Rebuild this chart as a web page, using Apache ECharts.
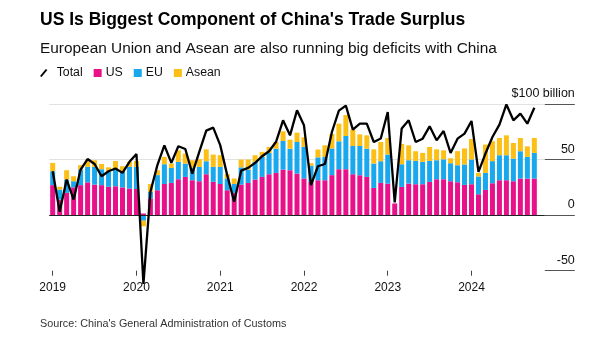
<!DOCTYPE html>
<html><head><meta charset="utf-8">
<script src="https://cdn.jsdelivr.net/npm/echarts@6/dist/echarts.min.js"></script>
<style>html,body{margin:0;padding:0;background:#fff}#c{width:609px;height:347px}</style>
</head><body><div id="c"></div>
<script>
// Monthly, Jan 2019 – Oct 2024 ($ billion)
const years = ['2019','2020','2021','2022','2023','2024'];
const monthsOnAxis = 71; // axis runs to Nov 2024
const us = [
  27,14,20,25,27,29.5,27.5,27,25.5,26,25,24,
  23.5,1.5,15,22.4,28,29,32.3,34.4,31.4,30.5,36.8,30,
  28,22.4,20,27.5,29,32,34.4,36.8,38,41,40.4,37.4,
  33,30,31.4,31.4,36,41.3,41.3,36.8,35.9,34.4,24.5,29,
  28.4,10.5,25.4,28.4,27.8,27.8,29.9,32.3,32.3,30.5,29.6,27.2,
  27.8,18.8,22.7,28.7,31.4,31.4,30.5,32.9,32.9,32.9
];
const eu = [
  12.5,9,12,5.5,14,13.9,15.9,14.3,13.7,15.5,14,19.6,
  19.9,-5,6,13.6,17.8,13.5,15.6,12,11.1,12.9,11.7,13.4,
  15.4,10.6,8,15.5,12,15.9,18,19.2,21.8,25.7,19.4,28.4,
  28.5,14.5,20.6,21,24,25.1,29.9,25.4,26.3,25.4,21.9,19.5,
  26.1,0,20.4,21,21,20.1,18.9,17.1,17.9,16.2,15.3,18.4,
  22.3,16,15.3,19.9,22.5,22.5,20.4,24.6,19.5,23.1
];
const asean = [
  7.5,2.5,8.4,4.5,4,6.6,6,4.7,3.8,7.2,5,4.4,
  5.3,-5,7,4.4,6.6,3.9,10.4,9,6.9,6.9,10.7,11.1,
  10.5,4,5,7,9,6,4.5,5.3,6,8.7,8.1,8.4,
  8.5,2.2,7,10.4,13,15.9,18.8,14.8,10.5,12,12.8,17.3,
  14.9,0,18.2,13.4,8.7,8.1,12.5,9.8,8.1,4.5,12.7,14.4,
  18.4,3.2,25.5,17.9,15.5,17.9,14,11.9,9.5,13.4
];
const total = [
  39.5,3,32,14,41,50.5,46,35,39.5,42,38,48,
  55,-62,21,45,62.8,47,62,59.5,37.4,57,76,78.7,
  63,36,12,40,42.5,47,53,57.5,66,85.3,71.8,94.3,
  80.8,27,44,46,74.8,94,98.5,77,82.3,82.3,65.8,69,
  92.8,11.5,78,85.3,65.8,68.8,79.9,67.3,75.7,56,68.8,73.3,
  84.7,38.9,55.4,70.3,81.4,99.6,85.3,91.3,82.3,96.6
];
const yTicks = [-50, 0, 50, 100];

const categories = [];
years.forEach(y => { for (let m = 1; m <= 12; m++) categories.push(y + '-' + (m < 10 ? '0' + m : m)); });
const cats = categories.slice(0, monthsOnAxis);

const FONT = "'Liberation Sans', Arial, sans-serif";
const chart = echarts.init(document.getElementById('c'), null, {renderer: 'canvas'});
const isJan = (i) => i % 12 === 0;

chart.setOption({
  animation: false,
  backgroundColor: '#fff',
  textStyle: {fontFamily: FONT},
  title: [
    {text: "US Is Biggest Component of China's Trade Surplus", left: 40, top: 11, padding: 0,
     textStyle: {fontFamily: FONT, fontSize: 17.5, fontWeight: 'bold', color: '#000'}},
    {text: 'European Union and Asean are also running big deficits with China', left: 40, top: 41, padding: 0,
     textStyle: {fontFamily: FONT, fontSize: 15.4, fontWeight: 'normal', color: '#111'}},
    {text: "Source: China's General Administration of Customs", left: 40, top: 319, padding: 0,
     textStyle: {fontFamily: FONT, fontSize: 10.8, fontWeight: 'normal', color: '#333'}}
  ],
  legend: {
    left: 40, top: 67, padding: 0, itemGap: 11, itemWidth: 8, itemHeight: 8,
    selectedMode: false,
    textStyle: {fontFamily: FONT, fontSize: 12.3, color: '#111', padding: [0, 0, 0, -1]},
    data: [
      {name: 'Total', icon: 'path://M0,9 L7.5,0 L9.5,1.3 L2,10.3 Z', itemStyle: {color: '#000'},
       textStyle: {padding: [0, 0, 0, 4]}},
      {name: 'US', icon: 'rect'},
      {name: 'EU', icon: 'rect'},
      {name: 'Asean', icon: 'rect'}
    ]
  },
  grid: {left: 49.2, right: 64.2, top: 104, bottom: 76.3, containLabel: false},
  xAxis: {
    type: 'category', data: cats, boundaryGap: true,
    axisLine: {show: false, onZero: false},
    axisTick: {show: true, alignWithLabel: true, interval: isJan, length: 5, lineStyle: {color: '#444'}},
    axisLabel: {interval: isJan, formatter: v => v.slice(0, 4), margin: 11, fontSize: 12, color: '#111', fontFamily: FONT},
    splitLine: {show: false}
  },
  yAxis: {
    type: 'value', position: 'right', min: yTicks[0], max: yTicks[yTicks.length - 1], interval: 50,
    axisLine: {show: false},
    axisTick: {show: true, length: 30, lineStyle: {color: '#555'}},
    axisLabel: {margin: 30, align: 'right', verticalAlign: 'bottom', padding: [0, 0, 4, 0],
      fontSize: 12.5, color: '#111', fontFamily: FONT,
      formatter: v => v === 100 ? '$100 billion' : String(v)},
    splitLine: {show: true, showMinLine: false, lineStyle: {color: '#e2e2e2', width: 1}}
  },
  series: [
    {name: 'US', type: 'bar', stack: 'm', data: us, barWidth: 5, itemStyle: {color: '#e8118a'},
     markLine: {silent: true, symbol: ['none', 'none'], label: {show: false}, animation: false,
       lineStyle: {color: '#222', width: 1, type: 'solid'}, data: [{yAxis: 0}]}},
    {name: 'EU', type: 'bar', stack: 'm', data: eu, barWidth: 5, itemStyle: {color: '#19a7ee'}},
    {name: 'Asean', type: 'bar', stack: 'm', data: asean, barWidth: 5, itemStyle: {color: '#fcbf16'}},
    {name: 'Total', type: 'line', data: total, symbol: 'none', clip: false, z: 5,
     lineStyle: {color: '#000', width: 2.3}, itemStyle: {color: '#000'}}
  ]
});
</script>
</body></html>
